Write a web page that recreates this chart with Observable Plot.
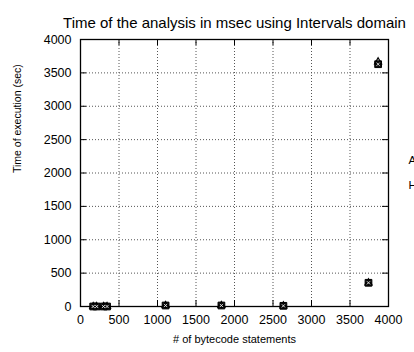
<!DOCTYPE html>
<html>
<head>
<meta charset="utf-8">
<script src="https://cdn.jsdelivr.net/npm/d3@7"></script>
<script src="https://cdn.jsdelivr.net/npm/@observablehq/plot@0.6"></script>
<style>
  html, body { margin: 0; padding: 0; background: #fff; overflow: hidden; }
  #chart svg { overflow: hidden; }
</style>
</head>
<body>
<div id="chart"></div>
<script>
// Number of bytecode statements of each analysed program
const statements = [165, 210, 300, 345, 1105, 1830, 2635, 3740, 3865];
// Analysis time for each program, two runs
const timeA = [0, 0, 0, 0, 15, 15, 10, 355, 3630];
const timeB = [0, 0, 0, 0, 15, 15, 10, 355, 3665];
// Axis ticks
const xTicks = [0, 500, 1000, 1500, 2000, 2500, 3000, 3500, 4000];
const yTicks = [0, 500, 1000, 1500, 2000, 2500, 3000, 3500, 4000];
// Text
const title = "Time of the analysis in msec using Intervals domain";
const xLabel = "# of bytecode statements";
const yLabel = "Time of execution (sec)";
const legendNames = ["Analysis", "Heap"];

const rows = statements.map((s, i) => ({s, a: timeA[i], b: timeB[i]}));
const font = "'Liberation Sans', Arial, Helvetica, sans-serif";
const plain = (d) => String(d);

// frame size in pixels, used to turn full-length ticks into short inward ticks
const W = 414, H = 352, mL = 80, mR = 26, mT = 39, mB = 46;
const innerW = W - mL - mR, innerH = H - mT - mB, tickLen = 6;
const grid = {stroke: "#555", strokeOpacity: 1, strokeDasharray: "1,2", strokeWidth: 1};
const tick = {stroke: "#000", strokeWidth: 1};

const chart = Plot.plot({
  width: W,
  height: H,
  marginLeft: mL,
  marginRight: mR,
  marginTop: mT,
  marginBottom: mB,
  style: {fontFamily: font, background: "#fff", color: "#000", overflow: "hidden"},
  x: {domain: [0, 4000], axis: null},
  y: {domain: [0, 4000], axis: null},
  marks: [
    // dotted grid
    Plot.gridX(xTicks.slice(1, -1), grid),
    Plot.gridY(yTicks.slice(1, -1), grid),
    // short inward ticks on all four sides of the frame
    Plot.tickX(xTicks, {x: (d) => d, insetTop: innerH - tickLen, ...tick}),
    Plot.tickX(xTicks, {x: (d) => d, insetBottom: innerH - tickLen, ...tick}),
    Plot.tickY(yTicks, {y: (d) => d, insetRight: innerW - tickLen, ...tick}),
    Plot.tickY(yTicks, {y: (d) => d, insetLeft: innerW - tickLen, ...tick}),
    // tick labels
    Plot.axisX({ticks: xTicks, anchor: "bottom", tickSize: 0, tickPadding: 9, fontSize: 12.5, tickFormat: plain, label: null}),
    Plot.axisY({ticks: yTicks, anchor: "left", tickSize: 0, tickPadding: 9, fontSize: 12.5, tickFormat: plain, label: null}),
    Plot.frame({stroke: "#000", strokeWidth: 1.3}),
    // data points
    Plot.dot(rows, {x: "s", y: "a", symbol: "square", r: 3.8, fill: "#111", stroke: "#000", strokeWidth: 1}),
    Plot.dot(rows, {x: "s", y: "b", symbol: "triangle", r: 2.6, fill: "none", stroke: "#000", strokeWidth: 1.2}),
    Plot.dot(rows, {x: "s", y: "a", symbol: "times", r: 1.6, stroke: "#fff", strokeWidth: 0.8}),
    // titles
    Plot.text([title], {frameAnchor: "top", dy: -22, fontSize: 15, fill: "#000"}),
    Plot.text([xLabel], {frameAnchor: "bottom", dy: 36, fontSize: 11, fill: "#000"}),
    Plot.text([yLabel], {frameAnchor: "left", dx: -63, rotate: -90, fontSize: 10.5, fill: "#000"}),
    // legend to the right of the frame
    Plot.text([legendNames[0]], {frameAnchor: "right", dx: 20, dy: -13, textAnchor: "start", fontSize: 11.5, fill: "#000"}),
    Plot.text([legendNames[1]], {frameAnchor: "right", dx: 20, dy: 12, textAnchor: "start", fontSize: 11.5, fill: "#000"})
  ]
});
document.getElementById("chart").appendChild(chart);
</script>
</body>
</html>
